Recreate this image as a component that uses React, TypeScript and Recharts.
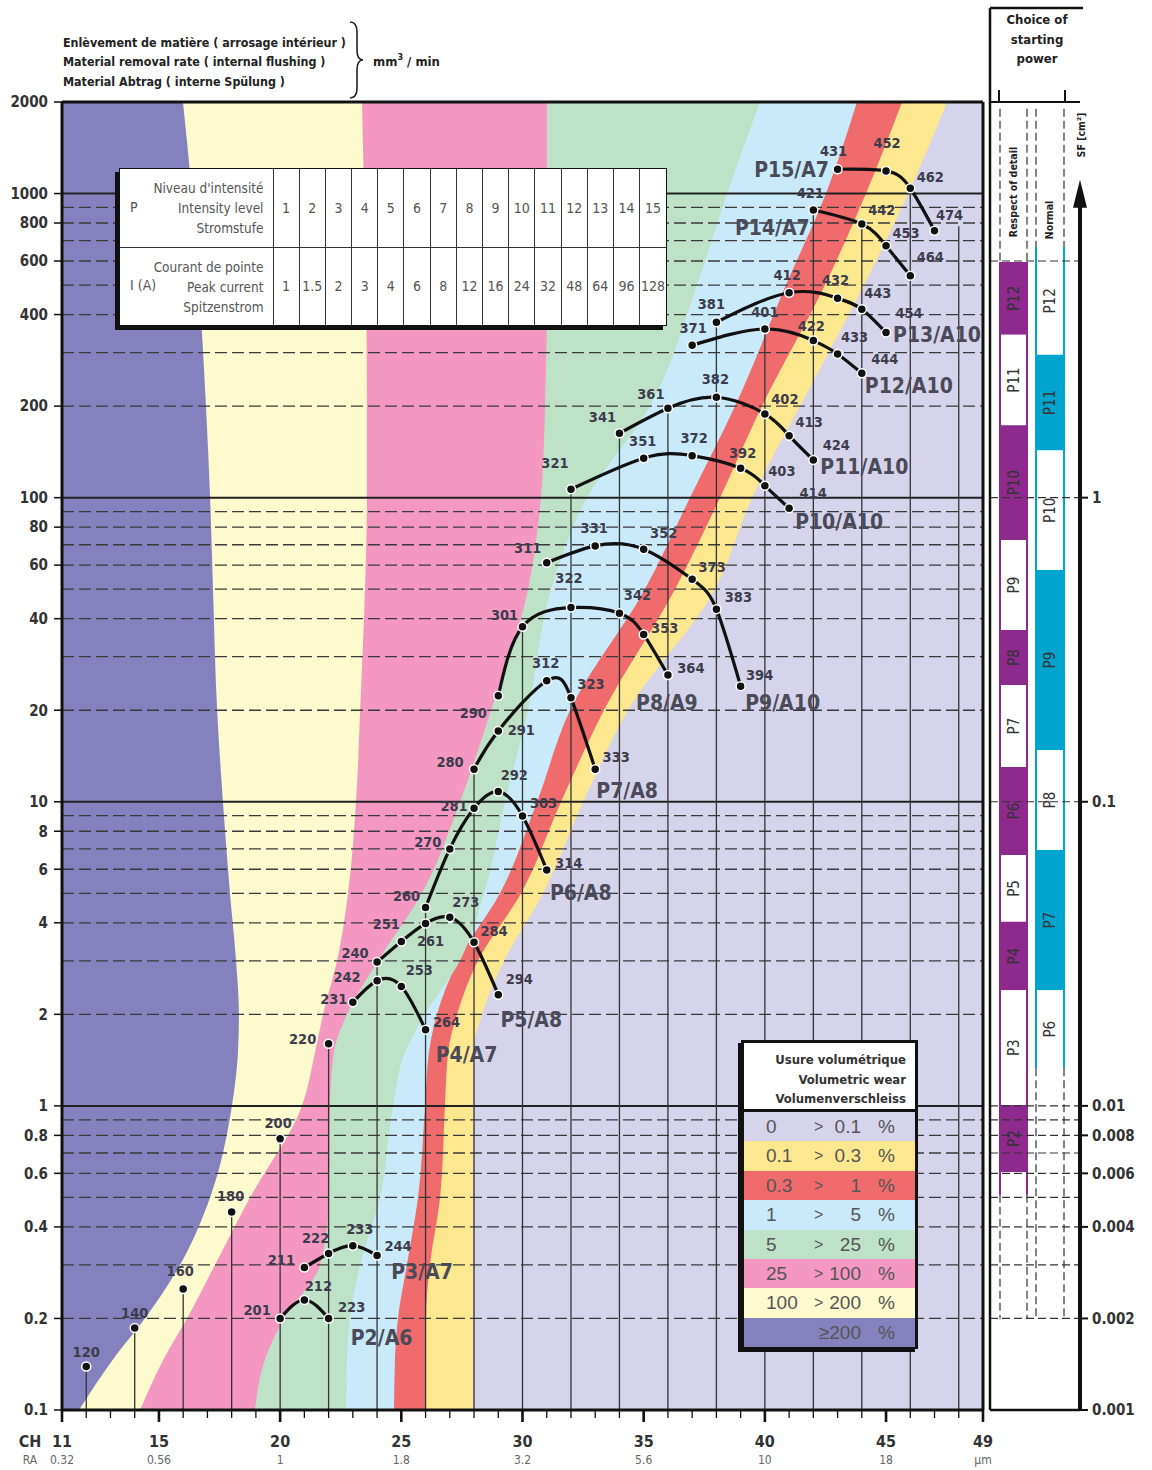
import React from 'react';
import {
  ComposedChart, Area, Line, XAxis, YAxis, ReferenceLine, ReferenceArea, ReferenceDot, LabelList,
} from 'recharts';

const FONT_N = "'Liberation Sans Narrow','Arial Narrow','DejaVu Sans Condensed','Liberation Sans',Arial,sans-serif";
const FONT = "'Liberation Sans',Arial,sans-serif";

// ---------- band boundaries (CH value of each boundary at each removal-rate level) ----------
const Q_LEVELS = [2000, 1000, 500, 200, 100, 50, 20, 10, 5, 3, 2, 1.5, 1, 0.5, 0.3, 0.2, 0.15, 0.1];
const EDGE_1 = [15.99, 16.36, 16.65, 16.94, 17.11, 17.23, 17.40, 17.64, 17.93, 18.18, 18.30, 18.26, 18.01, 17.11, 15.87, 14.42, 13.19, 11.70];
const EDGE_2 = [23.38, 23.46, 23.54, 23.58, 23.58, 23.50, 23.30, 23.13, 22.80, 22.35, 21.77, 21.44, 20.90, 18.76, 17.31, 16.16, 15.25, 14.22];
const EDGE_3 = [31.01, 31.01, 31.01, 30.93, 30.76, 30.23, 28.70, 27.42, 25.85, 24.04, 22.76, 22.22, 22.06, 22.02, 21.65, 20.16, 19.42, 18.96];
const EDGE_4 = [39.80, 38.44, 37.20, 35.26, 32.66, 31.18, 30.23, 29.28, 28.41, 27.42, 25.98, 25.15, 24.66, 24.12, 23.30, 22.88, 22.76, 22.72];
const EDGE_5 = [43.80, 42.52, 40.87, 38.77, 36.91, 35.05, 31.96, 30.60, 29.07, 27.34, 26.47, 26.14, 25.98, 25.69, 25.23, 24.86, 24.74, 24.70];
const EDGE_6 = [45.66, 44.17, 42.48, 39.88, 38.15, 36.29, 33.36, 31.59, 29.94, 28.16, 27.30, 26.93, 26.80, 26.60, 26.18, 26.02, 26.02, 26.02];
const EDGE_7 = [47.52, 45.91, 44.09, 41.45, 39.47, 37.94, 34.35, 32.50, 30.85, 29.24, 28.33, 27.96, 27.96, 27.96, 27.96, 27.96, 27.96, 27.96];

// wear classes (low -> high)
const WEAR_LO = ['0', '0.1', '0.3', '1', '5', '25', '100', ''];
const WEAR_HI = ['0.1', '0.3', '1', '5', '25', '100', '200', '≥200'];
const WEAR_FILL = ['#d6d4ea', '#fde88f', '#f06b6b', '#c8eafa', '#bee2c8', '#f498c1', '#fdfacd', '#8580be'];

// ---------- machining points ----------
const SINGLE_CH = [12, 14, 16, 18, 20, 22];
const SINGLE_Q = [0.139, 0.186, 0.25, 0.448, 0.78, 1.6];
const SINGLE_ID = ['120', '140', '160', '180', '200', '220'];

const P2_CH = [20, 21, 22]; const P2_Q = [0.2, 0.23, 0.2]; const P2_ID = ['201', '212', '223'];
const P3_CH = [21, 22, 23, 24]; const P3_Q = [0.294, 0.327, 0.347, 0.322]; const P3_ID = ['211', '222', '233', '244'];
const P4_CH = [23, 24, 25, 26]; const P4_Q = [2.19, 2.58, 2.47, 1.78]; const P4_ID = ['231', '242', '253', '264'];
const P5_CH = [24, 25, 26, 27, 28, 29]; const P5_Q = [2.97, 3.47, 3.98, 4.17, 3.45, 2.32]; const P5_ID = ['240', '251', '261', '273', '284', '294'];
const P6_CH = [26, 27, 28, 29, 30, 31]; const P6_Q = [4.49, 7.0, 9.52, 10.8, 8.98, 5.97]; const P6_ID = ['260', '270', '281', '292', '303', '314'];
const P7_CH = [28, 29, 31, 32, 33]; const P7_Q = [12.8, 17.1, 25.0, 22.0, 12.8]; const P7_ID = ['280', '291', '312', '323', '333'];
const P8_CH = [29, 30, 32, 34, 35, 36]; const P8_Q = [22.3, 37.6, 43.5, 41.7, 35.5, 26.1]; const P8_ID = ['290', '301', '322', '342', '353', '364'];
const P9_CH = [31, 33, 35, 37, 38, 39]; const P9_Q = [61.1, 69.4, 67.7, 53.9, 43.0, 24.0]; const P9_ID = ['311', '331', '352', '373', '383', '394'];
const P10_CH = [32, 35, 37, 39, 40, 41]; const P10_Q = [106.6, 134.8, 137.4, 124.9, 109.5, 92.3]; const P10_ID = ['321', '351', '372', '392', '403', '414'];
const P11_CH = [34, 36, 38, 40, 41, 42]; const P11_Q = [162.8, 196.8, 213.9, 188.5, 159.9, 133.0]; const P11_ID = ['341', '361', '382', '402', '413', '424'];
const P12_CH = [37, 40, 42, 43, 44]; const P12_Q = [317, 358.6, 328.4, 296.9, 256.5]; const P12_ID = ['371', '401', '422', '433', '444'];
const P13_CH = [38, 41, 43, 44, 45]; const P13_Q = [377.5, 472, 452.6, 416.5, 348.9]; const P13_ID = ['381', '412', '432', '443', '454'];
const P14_CH = [42, 44, 45, 46]; const P14_Q = [883, 794, 674, 537]; const P14_ID = ['421', '442', '453', '464'];
const P15_CH = [43, 45, 46, 47]; const P15_Q = [1202, 1187, 1041, 755]; const P15_ID = ['431', '452', '462', '474'];

// drop lines
const DROP_CH = [12, 14, 16, 18, 20, 22, 24, 26, 28, 30, 32, 34, 36, 38, 40, 42, 44, 46, 48];
const DROP_TOP = [0.139, 0.186, 0.25, 0.448, 0.78, 1.6, 2.97, 4.49, 12.8, 37.6, 106.6, 162.8, 196.8, 377.5, 358.6, 883, 794, 1041, 780];

// axes
const Y_TICKS = [0.1, 0.2, 0.4, 0.6, 0.8, 1, 2, 4, 6, 8, 10, 20, 40, 60, 80, 100, 200, 400, 600, 800, 1000, 2000];
const GRID_MAJOR = [1, 10, 100, 1000];
const GRID_MINOR = [0.2, 0.3, 0.4, 0.5, 0.6, 0.7, 0.8, 0.9, 2, 3, 4, 5, 6, 7, 8, 9, 20, 30, 40, 50, 60, 70, 80, 90, 200, 300, 400, 500, 600, 700, 800, 900];
const CH_MAJOR = [11, 15, 20, 25, 30, 35, 40, 45, 49];
const RA_LABELS = ['0.32', '0.56', '1', '1.8', '3.2', '5.6', '10', '18', 'µm'];
const CH_ALL = Array.from({ length: 39 }, (_, i) => 11 + i);

// table
const INTENSITY = ['1', '2', '3', '4', '5', '6', '7', '8', '9', '10', '11', '12', '13', '14', '15'];
const PEAK_CURRENT = ['1', '1.5', '2', '3', '4', '6', '8', '12', '16', '24', '32', '48', '64', '96', '128'];

// starting power panel (SF cm²)
const DETAIL_P = ['P12', 'P11', 'P10', 'P9', 'P8', 'P7', 'P6', 'P5', 'P4', 'P3', 'P2'];
const DETAIL_TOP = [5.96, 3.43, 1.73, 0.726, 0.367, 0.242, 0.130, 0.0668, 0.0403, 0.0240, 0.01006];
const DETAIL_BOTTOM = [3.43, 1.73, 0.726, 0.367, 0.242, 0.130, 0.0668, 0.0403, 0.0240, 0.01006, 0.00606];
const NORMAL_P = ['P12', 'P11', 'P10', 'P9', 'P8', 'P7', 'P6'];
const NORMAL_TOP = [6.67, 2.95, 1.43, 0.578, 0.148, 0.0694, 0.0240];
const NORMAL_BOTTOM = [2.95, 1.43, 0.578, 0.148, 0.0694, 0.0240, 0.0133];
const SF_TICKS = [0.001, 0.002, 0.004, 0.006, 0.008, 0.01, 0.1, 1];
const SF_DASHED = [6, 1, 0.1, 0.01, 0.009, 0.008, 0.007, 0.006, 0.005, 0.004, 0.003, 0.002];

// ---------- styling maps ----------
const LABEL_OFFSET: Record<string, [number, number]> = {
  '120': [0, -15], '140': [0, -15], '160': [-3, -18], '180': [-1, -16], '200': [-2, -16], '220': [-26, -5],
  '201': [-23, -8], '212': [14, -14], '223': [23, -11],
  '211': [-23, -8], '222': [-13, -16], '233': [7, -17], '244': [21, -10],
  '231': [-19, -3], '242': [-30, -4], '253': [18, -16], '264': [21, -8],
  '240': [-22, -9], '251': [-15, -18], '261': [5, 18], '273': [16, -15], '284': [20, -11], '294': [21, -16],
  '260': [-19, -12], '270': [-22, -7], '281': [-20, -2], '292': [16, -17], '303': [21, -13], '314': [22, -7],
  '280': [-24, -7], '291': [23, -1], '312': [-1, -18], '323': [20, -14], '333': [21, -12],
  '290': [-25, 17], '301': [-18, -12], '322': [-2, -30], '342': [18, -18], '353': [21, -6], '364': [23, -7],
  '311': [-19, -15], '331': [-1, -18], '352': [20, -16], '373': [20, -12], '383': [22, -12], '394': [19, -11],
  '321': [-16, -26], '351': [-1, -17], '372': [2, -18], '392': [2, -15], '403': [17, -15], '414': [24, -15],
  '341': [-17, -16], '361': [-17, -14], '382': [-1, -18], '402': [20, -15], '413': [20, -14], '424': [23, -15],
  '371': [1, -17], '401': [0, -17], '422': [-2, -15], '433': [17, -17], '444': [23, -14],
  '381': [-5, -18], '412': [-2, -18], '432': [-2, -18], '443': [16, -16], '454': [23, -20],
  '421': [-3, -17], '442': [20, -14], '453': [20, -13], '464': [20, -19],
  '431': [-4, -18], '452': [1, -28], '462': [20, -11], '474': [15, -16],
};

type Pt = { ch: number; q: number; label: string };
const pts = (ch: number[], q: number[], id: string[]): Pt[] => ch.map((c, i) => ({ ch: c, q: q[i], label: id[i] }));

const SERIES = [
  { name: 'P2/A6', data: pts(P2_CH, P2_Q, P2_ID), anchor: '223', dx: 53, dy: 20 },
  { name: 'P3/A7', data: pts(P3_CH, P3_Q, P3_ID), anchor: '244', dx: 45, dy: 16 },
  { name: 'P4/A7', data: pts(P4_CH, P4_Q, P4_ID), anchor: '264', dx: 41, dy: 25 },
  { name: 'P5/A8', data: pts(P5_CH, P5_Q, P5_ID), anchor: '294', dx: 33, dy: 25 },
  { name: 'P6/A8', data: pts(P6_CH, P6_Q, P6_ID), anchor: '314', dx: 34, dy: 23 },
  { name: 'P7/A8', data: pts(P7_CH, P7_Q, P7_ID), anchor: '333', dx: 32, dy: 22 },
  { name: 'P8/A9', data: pts(P8_CH, P8_Q, P8_ID), anchor: '364', dx: -1, dy: 28 },
  { name: 'P9/A10', data: pts(P9_CH, P9_Q, P9_ID), anchor: '394', dx: 42, dy: 17 },
  { name: 'P10/A10', data: pts(P10_CH, P10_Q, P10_ID), anchor: '414', dx: 50, dy: 14 },
  { name: 'P11/A10', data: pts(P11_CH, P11_Q, P11_ID), anchor: '424', dx: 51, dy: 7 },
  { name: 'P12/A10', data: pts(P12_CH, P12_Q, P12_ID), anchor: '444', dx: 47, dy: 13 },
  { name: 'P13/A10', data: pts(P13_CH, P13_Q, P13_ID), anchor: '454', dx: 51, dy: 2 },
  { name: 'P14/A7', data: pts(P14_CH, P14_Q, P14_ID), anchor: '421', dx: -41, dy: 18 },
  { name: 'P15/A7', data: pts(P15_CH, P15_Q, P15_ID), anchor: '431', dx: -46, dy: 1 },
];

const vbXY = (p: any) => {
  const vb = p.viewBox || {};
  const x = vb.x != null ? vb.x : p.x;
  const y = vb.y != null ? vb.y : p.y;
  return [Number(x), Number(y)];
};

const pointLabel = (p: any) => {
  const [x, y] = vbXY(p);
  const id = String(p.value);
  const off = LABEL_OFFSET[id] || [0, -16];
  return (
    <text x={x + off[0]} y={y + off[1]} textAnchor="middle" dominantBaseline="central"
      fontSize={14.5} fontWeight={700} fill="#3c3c4c" fontFamily={FONT_N}>{id}</text>
  );
};

const seriesLabel = (s: { name: string; anchor: string; dx: number; dy: number }) => (p: any) => {
  if (String(p.value) !== s.anchor) return null;
  const [x, y] = vbXY(p);
  return (
    <text x={x + s.dx} y={y + s.dy} textAnchor="middle" dominantBaseline="central"
      fontSize={21} fontWeight={700} fill="#4a4a58" fontFamily={FONT_N}>{s.name}</text>
  );
};

const XTick = (props: any) => {
  const { x, y, payload } = props;
  const v = payload.value;
  const mi = CH_MAJOR.indexOf(v);
  return (
    <g>
      <line x1={x} x2={x} y1={y} y2={y + (mi >= 0 ? 12 : 8)} stroke="#111" strokeWidth={mi >= 0 ? 2.6 : 1.3} />
      {mi >= 0 && (
        <text x={x} y={y + 37} textAnchor="middle" fontSize={16} fontWeight={700} fill="#333" fontFamily={FONT_N}>{v}</text>
      )}
      {mi >= 0 && (
        <text x={x} y={y + 54} textAnchor="middle" fontSize={12} fill="#666" fontFamily={FONT_N}>{RA_LABELS[mi]}</text>
      )}
      {v === 11 && (
        <>
          <text x={x - 32} y={y + 37} textAnchor="middle" fontSize={16} fontWeight={700} fill="#333" fontFamily={FONT_N}>CH</text>
          <text x={x - 32} y={y + 54} textAnchor="middle" fontSize={12} fill="#666" fontFamily={FONT_N}>RA</text>
        </>
      )}
    </g>
  );
};

export default function App() {
  const bandRows = Q_LEVELS.map((q, i) => ({
    q, bg: 49, e7: EDGE_7[i], e6: EDGE_6[i], e5: EDGE_5[i], e4: EDGE_4[i], e3: EDGE_3[i], e2: EDGE_2[i], e1: EDGE_1[i],
  }));
  const bandKeys = ['bg', 'e7', 'e6', 'e5', 'e4', 'e3', 'e2', 'e1'];
  const singles = pts(SINGLE_CH, SINGLE_Q, SINGLE_ID);

  const cellB = '1px solid #333';

  return (
    <div style={{ position: 'absolute', left: 0, top: 0, width: 1152, height: 1470, background: '#fff', overflow: 'hidden' }}>
      {/* main chart */}
      <div style={{ position: 'absolute', left: 0, top: 0 }}>
        <ComposedChart width={1152} height={1470} layout="vertical" data={bandRows}
          margin={{ top: 102, right: 169, bottom: 0, left: 0 }}>
          <XAxis type="number" domain={[11, 49]} allowDataOverflow ticks={CH_ALL} interval={0}
            tick={<XTick />} tickLine={false} tickSize={0} tickMargin={0} height={60}
            axisLine={{ stroke: '#111', strokeWidth: 3 }} />
          <YAxis type="number" dataKey="q" scale="log" domain={[0.1, 2000]} allowDataOverflow ticks={Y_TICKS}
            reversed interval={0} width={62} tickSize={8} tickMargin={6}
            tickFormatter={(v: number) => String(v)}
            tick={{ fontSize: 15, fontWeight: 700, fill: '#333', fontFamily: FONT_N }}
            tickLine={{ stroke: '#111', strokeWidth: 1.5 }}
            axisLine={{ stroke: '#111', strokeWidth: 3 }} />
          {bandKeys.map((k, i) => (
            <Area key={k} dataKey={k} type="monotone" stroke="none" fill={WEAR_FILL[i]} fillOpacity={1}
              isAnimationActive={false} dot={false} activeDot={false} />
          ))}
          {GRID_MINOR.map((v) => (
            <ReferenceLine key={'gm' + v} y={v} stroke="#3a3a3a" strokeWidth={1.3} strokeDasharray="12 5" />
          ))}
          {GRID_MAJOR.map((v) => (
            <ReferenceLine key={'gM' + v} y={v} stroke="#222" strokeWidth={2} />
          ))}
          {DROP_CH.map((c, i) => (
            <ReferenceLine key={'d' + c} segment={[{ x: c, y: DROP_TOP[i] }, { x: c, y: 0.1 }]} stroke="#333" strokeWidth={1.3} />
          ))}
          <ReferenceLine x={49} stroke="#111" strokeWidth={3} />
          <ReferenceLine y={2000} stroke="#111" strokeWidth={3} />
          <Line data={singles} dataKey="ch" stroke="none" isAnimationActive={false}
            dot={{ r: 4.5, fill: '#111', stroke: '#fff', strokeWidth: 1.5 }} activeDot={false}>
            <LabelList dataKey="label" content={pointLabel} />
          </Line>
          {SERIES.map((s) => (
            <Line key={s.name} data={s.data} dataKey="ch" type="natural" stroke="#111" strokeWidth={3.2}
              isAnimationActive={false} dot={{ r: 4.5, fill: '#111', stroke: '#fff', strokeWidth: 1.5 }} activeDot={false}>
              <LabelList dataKey="label" content={pointLabel} />
              <LabelList dataKey="label" content={seriesLabel(s)} />
            </Line>
          ))}
        </ComposedChart>
      </div>

      {/* starting power panel */}
      <div style={{ position: 'absolute', left: 0, top: 0 }}>
        <ComposedChart width={1152} height={1470} data={[{ x: 0, v: 0.001 }, { x: 9, v: 0.001 }]}
          margin={{ top: 102, right: 0, bottom: 60, left: 990 }}>
          <XAxis type="number" dataKey="x" domain={[0, 9]} hide />
          <YAxis yAxisId="sf" orientation="right" type="number" scale="log" domain={[0.001, 20]} allowDataOverflow
            ticks={SF_TICKS} interval={0} width={72} axisLine={false} tickSize={8} tickMargin={4}
            tickFormatter={(v: number) => String(v)}
            tickLine={{ stroke: '#111', strokeWidth: 2 }}
            tick={{ fontSize: 15, fontWeight: 700, fill: '#333', fontFamily: FONT_N }} />
          <Line yAxisId="sf" dataKey="v" stroke="none" dot={false} activeDot={false} isAnimationActive={false} />
          {DETAIL_P.map((p, i) => (
            <ReferenceArea key={'dp' + p} yAxisId="sf" x1={1.0} x2={3.7} y1={DETAIL_BOTTOM[i]} y2={DETAIL_TOP[i]}
              ifOverflow="visible" fill={i % 2 === 0 ? '#8e2a8e' : '#ffffff'} fillOpacity={1} stroke="none"
              label={{ value: p, position: 'center', angle: -90, fill: '#333', fontSize: 15, fontFamily: FONT_N }} />
          ))}
          {NORMAL_P.map((p, i) => (
            <ReferenceArea key={'np' + p} yAxisId="sf" x1={4.6} x2={7.4} y1={NORMAL_BOTTOM[i]} y2={NORMAL_TOP[i]}
              ifOverflow="visible" fill={i % 2 === 1 ? '#00a5cf' : '#ffffff'} fillOpacity={1} stroke="none"
              label={{ value: p, position: 'center', angle: -90, fill: '#333', fontSize: 15, fontFamily: FONT_N }} />
          ))}
          {[1.0, 3.7].map((x) => (
            <ReferenceLine key={'ds' + x} yAxisId="sf" segment={[{ x, y: 0.0051 }, { x, y: 5.96 }]} stroke="#8e2a8e" strokeWidth={2} />
          ))}
          {[4.6, 7.4].map((x) => (
            <ReferenceLine key={'ns' + x} yAxisId="sf" segment={[{ x, y: 0.0133 }, { x, y: 6.67 }]} stroke="#00a5cf" strokeWidth={2} />
          ))}
          {SF_DASHED.map((v) => (
            <ReferenceLine key={'sd' + v} yAxisId="sf" segment={[{ x: 0, y: v }, { x: 9, y: v }]} stroke="#333" strokeWidth={1.2} strokeDasharray="8 4" />
          ))}
          {[1.0, 3.7].map((x) => (
            <ReferenceLine key={'dv1' + x} yAxisId="sf" segment={[{ x, y: 19 }, { x, y: 5.96 }]} stroke="#333" strokeWidth={1.2} strokeDasharray="8 4" />
          ))}
          {[4.6, 7.4].map((x) => (
            <ReferenceLine key={'nv1' + x} yAxisId="sf" segment={[{ x, y: 19 }, { x, y: 6.67 }]} stroke="#333" strokeWidth={1.2} strokeDasharray="8 4" />
          ))}
          {[1.0, 3.7].map((x) => (
            <ReferenceLine key={'dv2' + x} yAxisId="sf" segment={[{ x, y: 0.0051 }, { x, y: 0.002 }]} stroke="#333" strokeWidth={1.2} strokeDasharray="8 4" />
          ))}
          {[4.6, 7.4].map((x) => (
            <ReferenceLine key={'nv2' + x} yAxisId="sf" segment={[{ x, y: 0.0133 }, { x, y: 0.002 }]} stroke="#333" strokeWidth={1.2} strokeDasharray="8 4" />
          ))}
          <ReferenceLine yAxisId="sf" segment={[{ x: 0, y: 20 }, { x: 9, y: 20 }]} stroke="#111" strokeWidth={2} />
          <ReferenceLine yAxisId="sf" segment={[{ x: 0, y: 0.001 }, { x: 0, y: 20 }]} stroke="#111" strokeWidth={2.5} />
          <ReferenceLine yAxisId="sf" segment={[{ x: 0, y: 0.001 }, { x: 9, y: 0.001 }]} stroke="#111" strokeWidth={2.5} />
          <ReferenceLine yAxisId="sf" segment={[{ x: 9, y: 0.001 }, { x: 9, y: 9.5 }]} stroke="#111" strokeWidth={4} />
          <ReferenceDot yAxisId="sf" x={9} y={11.1} r={1} ifOverflow="visible"
            shape={(p: any) => (
              <polygon points={`${p.cx},${p.cy} ${p.cx - 7},${p.cy + 28} ${p.cx + 7},${p.cy + 28}`} fill="#111" />
            )} />
        </ComposedChart>
      </div>

      {/* texts and decorations */}
      <svg width={1152} height={1470} style={{ position: 'absolute', left: 0, top: 0, pointerEvents: 'none' }}>
        <g fontFamily={FONT_N} fontWeight={700} fontSize={12.4} fill="#222">
          <text x={63} y={47}>Enlèvement de matière ( arrosage intérieur )</text>
          <text x={63} y={66}>Material removal rate ( internal flushing )</text>
          <text x={63} y={86}>Material Abtrag ( interne Spülung )</text>
          <text x={373} y={66} fontSize={13}>mm<tspan dy={-6} fontSize={9}>3</tspan><tspan dy={6}> / min</tspan></text>
        </g>
        <path d="M350 22 Q357 22 357 32 L357 50 Q357 60 363 60 Q357 60 357 70 L357 88 Q357 98 350 98"
          stroke="#222" strokeWidth={1.6} fill="none" />
        <line x1={990} x2={1083} y1={8} y2={8} stroke="#111" strokeWidth={2.5} />
        <line x1={990} x2={990} y1={8} y2={103} stroke="#111" strokeWidth={2.5} />
        <line x1={999} x2={999} y1={90} y2={103} stroke="#111" strokeWidth={2} />
        <line x1={1065} x2={1065} y1={90} y2={103} stroke="#111" strokeWidth={2} />
        <g fontFamily={FONT_N} fontWeight={700} fontSize={13} fill="#222" textAnchor="middle">
          <text x={1037} y={24}>Choice of</text>
          <text x={1037} y={44}>starting</text>
          <text x={1037} y={63}>power</text>
        </g>
        <g fontFamily={FONT_N} fontWeight={700} fontSize={10.5} fill="#222" textAnchor="middle">
          <text transform="translate(1017,192) rotate(-90)">Respect of detail</text>
          <text transform="translate(1053,220) rotate(-90)">Normal</text>
          <text transform="translate(1085,135) rotate(-90)">SF [cm²]</text>
        </g>
      </svg>

      {/* intensity table */}
      <div style={{
        position: 'absolute', left: 119, top: 168, width: 548, height: 158, background: '#fff',
        border: '1.5px solid #111', boxShadow: '-4px 4px 0 #111', boxSizing: 'border-box',
        fontFamily: FONT_N, color: '#555',
      }}>
        <table style={{ borderCollapse: 'collapse', width: '100%', height: '100%', tableLayout: 'fixed' }}>
          <colgroup>
            <col style={{ width: 153 }} />
            {INTENSITY.map((l) => <col key={'c' + l} />)}
          </colgroup>
          <tbody>
            <tr style={{ height: 78 }}>
              <td style={{ borderRight: cellB, borderBottom: cellB, position: 'relative', padding: 0 }}>
                <div style={{ position: 'absolute', left: 10, top: 30, fontSize: 14 }}>P</div>
                <div style={{ position: 'absolute', right: 9, top: 9, textAlign: 'right', fontSize: 13.5, lineHeight: '20px' }}>
                  Niveau d'intensité<br />Intensity level<br />Stromstufe
                </div>
              </td>
              {INTENSITY.map((l) => (
                <td key={'i' + l} style={{ borderLeft: cellB, borderBottom: cellB, textAlign: 'center', fontSize: 14, padding: 0 }}>{l}</td>
              ))}
            </tr>
            <tr style={{ height: 78 }}>
              <td style={{ borderRight: cellB, position: 'relative', padding: 0 }}>
                <div style={{ position: 'absolute', left: 10, top: 29, fontSize: 14 }}>I (A)</div>
                <div style={{ position: 'absolute', right: 9, top: 9, textAlign: 'right', fontSize: 13.5, lineHeight: '20px' }}>
                  Courant de pointe<br />Peak current<br />Spitzenstrom
                </div>
              </td>
              {PEAK_CURRENT.map((c, i) => (
                <td key={'p' + i} style={{ borderLeft: cellB, textAlign: 'center', fontSize: 14, padding: 0, whiteSpace: 'nowrap' }}>{c}</td>
              ))}
            </tr>
          </tbody>
        </table>
      </div>

      {/* wear legend */}
      <div style={{
        position: 'absolute', left: 741, top: 1040, width: 177, height: 309, border: '3px solid #111',
        boxShadow: '-3px 3px 0 #111', background: '#fff', boxSizing: 'border-box',
      }}>
        <div style={{
          height: 69, borderBottom: '3px solid #111', boxSizing: 'border-box', textAlign: 'right',
          padding: '7px 9px 0 0', fontSize: 13, fontWeight: 700, lineHeight: '19.5px', fontFamily: FONT_N, color: '#333',
        }}>
          Usure volumétrique<br />Volumetric wear<br />Volumenverschleiss
        </div>
        {WEAR_FILL.map((c, i) => (
          <div key={'w' + i} style={{
            height: 29.4, background: c, position: 'relative', fontSize: 19, fontFamily: FONT, color: '#555', lineHeight: '29.4px',
          }}>
            <span style={{ position: 'absolute', left: 22 }}>{WEAR_LO[i]}</span>
            {WEAR_LO[i] !== '' && <span style={{ position: 'absolute', left: 70, fontSize: 16 }}>{'>'}</span>}
            <span style={{ position: 'absolute', right: 54 }}>{WEAR_HI[i]}</span>
            <span style={{ position: 'absolute', right: 20 }}>%</span>
          </div>
        ))}
      </div>
    </div>
  );
}
